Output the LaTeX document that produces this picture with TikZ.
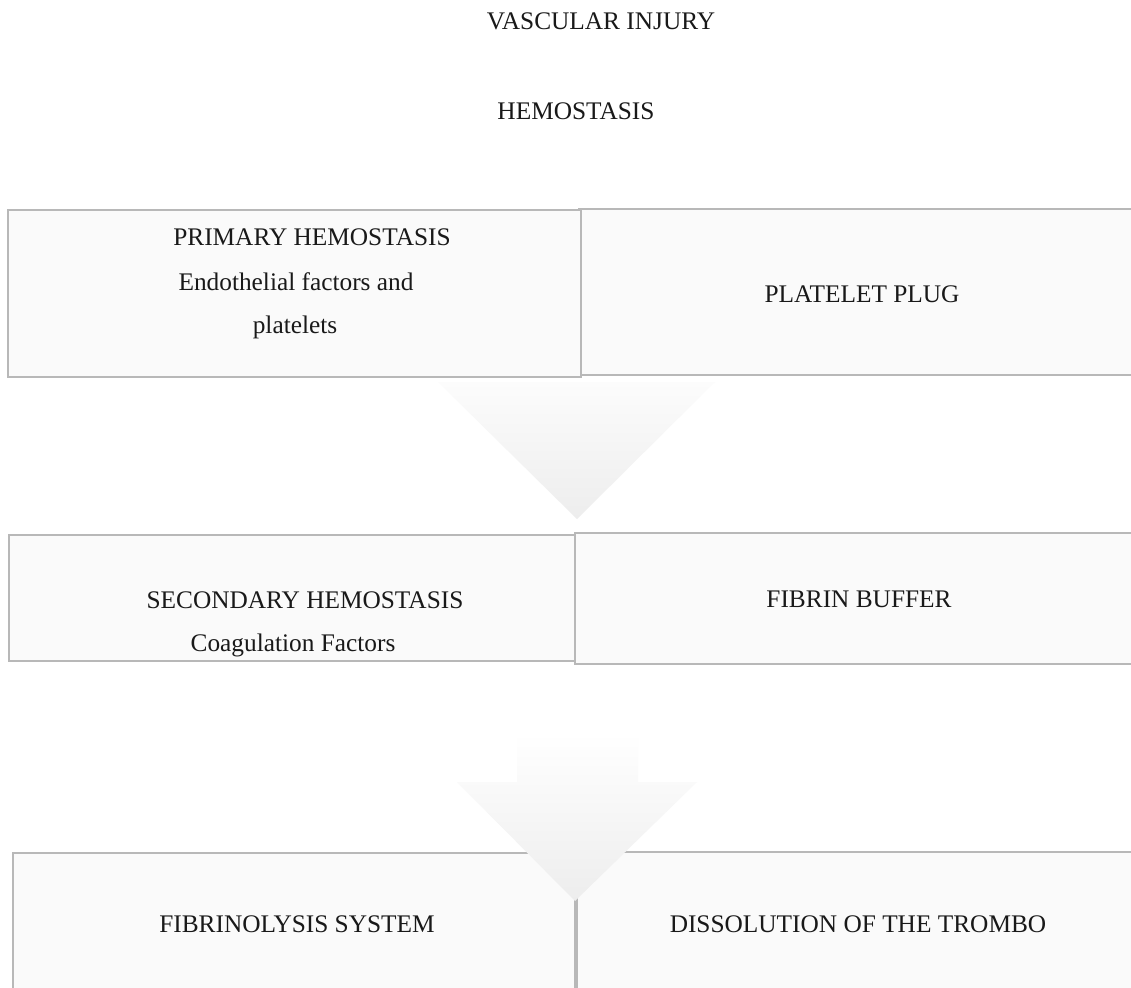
\documentclass[tikz,border=0pt]{standalone}
\usepackage{fontspec}
\setmainfont{Liberation Serif}
\definecolor{boxfill}{HTML}{FAFAFA}
\definecolor{boxline}{HTML}{B8B8B8}
\definecolor{arrtop}{HTML}{FCFCFC}
\definecolor{arrbot}{HTML}{EDEDED}
\begin{document}
\begin{tikzpicture}[x=0.75pt,y=-0.75pt,
  box/.style={draw=boxline, fill=boxfill, line width=1.5pt, anchor=north west, inner sep=0pt, outer sep=0pt},
  lbl/.style={anchor=base, inner sep=0pt, font=\fontsize{19}{23}\selectfont, text=black!90}]
\useasboundingbox (0,0) rectangle (1131,988);
\clip (0,0) rectangle (1131,988);
\fill[white] (0,0) rectangle (1131,988);
% first block arrow (head only visible, behind the boxes)
\shade[top color=arrtop, bottom color=arrbot]
  (438,382) -- (715,382) -- (577,519) -- cycle;
% boxes
\node[box, minimum width=420.75pt, minimum height=124.5pt] (b2) at (579,209) {};
\node[box, minimum width=429.75pt, minimum height=125.25pt] (b1) at (8,210) {};
\node[box, minimum width=423.75pt, minimum height=98.25pt] (b4) at (575,533) {};
\node[box, minimum width=424.5pt, minimum height=94.5pt] (b3) at (9,535) {};
\node[box, minimum width=421.5pt, minimum height=110.25pt] (b5) at (13,853) {};
\node[box, minimum width=422.25pt, minimum height=111pt] (b6) at (577,852) {};
% second block arrow (in front of the boxes)
\shade[top color=white, bottom color=arrbot]
  (517,733) -- (638,733) -- (638,782) -- (697,782) -- (575,901) -- (457,782) -- (517,782) -- cycle;
% texts
\node[lbl] (t1) at (601,30) {VASCULAR INJURY};
\node[lbl] (t2) at (576,120) {HEMOSTASIS};
\node[lbl] (p1) at (312,245) {PRIMARY HEMOSTASIS};
\node[lbl] (p2) at (296,290) {Endothelial factors and};
\node[lbl] (p3) at (295,333) {platelets};
\node[lbl] (q1) at (862,302) {PLATELET PLUG};
\node[lbl] (s1) at (305,608) {SECONDARY HEMOSTASIS};
\node[lbl] (s2) at (293,651) {Coagulation Factors};
\node[lbl] (f1) at (859,607) {FIBRIN BUFFER};
\node[lbl] (g1) at (297,932) {FIBRINOLYSIS SYSTEM};
\node[lbl] (g2) at (858,932) {DISSOLUTION OF THE TROMBO};
\end{tikzpicture}
\end{document}
